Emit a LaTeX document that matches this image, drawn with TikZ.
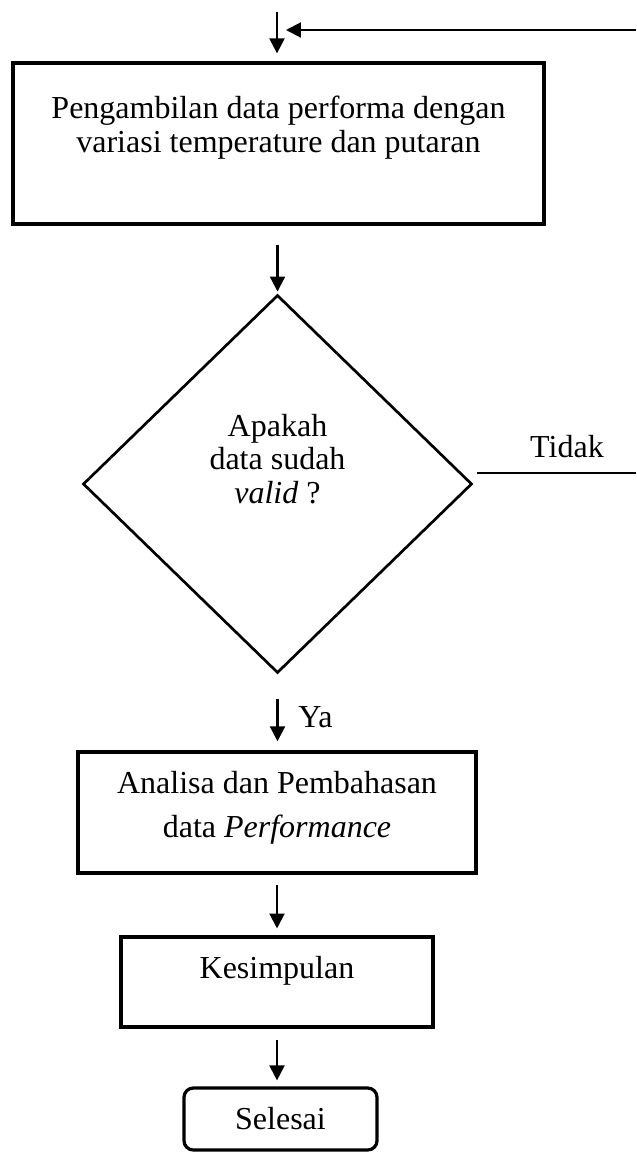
\documentclass[tikz,border=0pt]{standalone}
\usepackage{fontspec}
\setmainfont{Liberation Serif}
\usetikzlibrary{shapes.geometric,arrows.meta}

\begin{document}
\begin{tikzpicture}[x=0.375pt, y=-0.375pt,
        every node/.style={font=\fontsize{12}{12.7}\selectfont},
        prosesbox/.style={draw, line width=1.2pt, align=center, inner sep=0pt},
        keputusan/.style={draw, diamond, line width=1pt, align=center, inner sep=0pt},
        akhir/.style={draw, rounded corners=3.5pt, line width=1.2pt, inner sep=0pt},
        garis/.style={line width=0.8pt},
        panah/.style={garis, -{Triangle[length=5.6pt,width=5.6pt]}}]
    \useasboundingbox (0,0) rectangle (636,1153);
    % kotak dan keputusan
    \node[prosesbox, minimum width=199.1pt, minimum height=60.4pt, text depth=14.3pt] (ambil) at (278.5,143.5) {Pengambilan data performa dengan\\variasi temperature dan putaran};
    \node[keputusan, minimum width=145.9pt, minimum height=141.75pt, text depth=18.9pt] (cek) at (277.5,484) {Apakah\\data sudah\\\textit{valid} ?};
    \node[prosesbox, font=\fontsize{12}{16.5}\selectfont, minimum width=149.25pt, minimum height=45.4pt, text depth=6.4pt] (analisa) at (277,812.5) {Analisa dan Pembahasan\\data \textit{Performance}};
    \node[prosesbox, minimum width=117pt, minimum height=33.75pt, text depth=10.9pt] (simpul) at (277,982) {Kesimpulan};
    \node[akhir, minimum width=72.4pt, minimum height=23.25pt] (selesai) at (280.5,1119) {Selesai};
    % panah masuk dan umpan balik
    \coordinate (masuk) at (277,12);
    \coordinate (balik) at (636,30);
    \coordinate (balikujung) at (286,30);
    \coordinate (tidakujung) at (636,473);
    \draw[panah, shorten >=3pt] (masuk) -- (masuk |- ambil.north);
    \draw[panah] (balik) -- (balikujung);
    \draw[panah, shorten <=7.1pt, shorten >=0.8pt] (cek.north |- ambil.south) -- (cek.north);
    \draw[garis] (cek.east) ++(4,-11) -- (tidakujung);
    \node[anchor=base] (tidak) at (567,457) {Tidak};
    \draw[panah, shorten <=9.4pt, shorten >=3.4pt] (cek.south) -- (cek.south |- analisa.north);
    \node[anchor=base west] (ya) at (289,727) {Ya};
    \draw[panah, shorten <=3.75pt, shorten >=2.6pt] (analisa) -- (simpul);
    \draw[panah, shorten <=4.1pt, shorten >=2.25pt] (simpul.south) -- (simpul.south |- selesai.north);
\end{tikzpicture}
\end{document}
